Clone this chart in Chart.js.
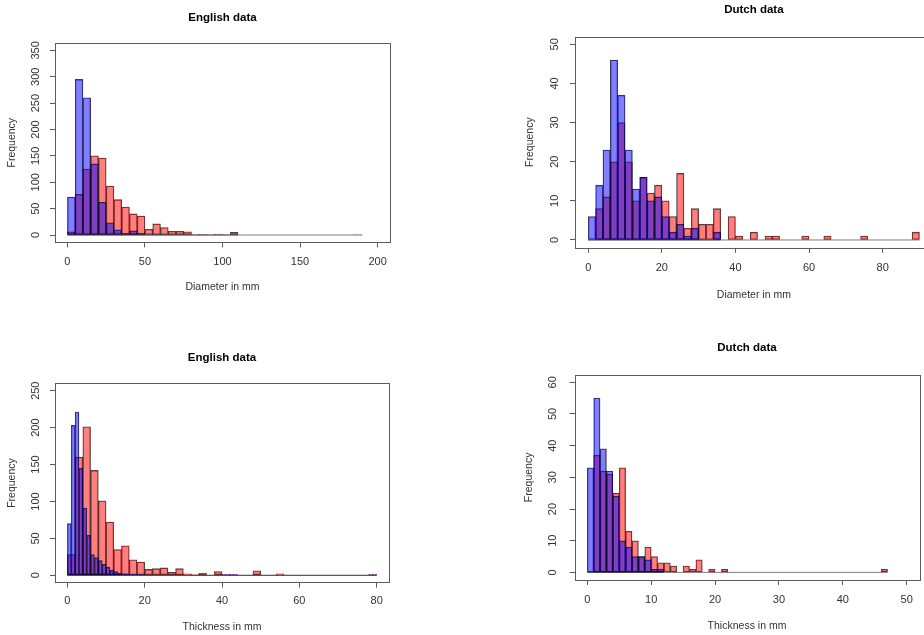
<!DOCTYPE html>
<html>
<head>
<meta charset="utf-8">
<title>English and Dutch data</title>
<script src="https://cdn.jsdelivr.net/npm/chart.js@4.4.1/dist/chart.umd.min.js"></script>
<style>
    html, body { margin: 0; padding: 0; background: #fff; overflow: hidden; }
    body { width: 924px; height: 635px; position: relative; }
    canvas { position: absolute; }
</style>
</head>
<body>
<canvas id="engDiam" width="462" height="318" style="left:0px;top:0px"></canvas>
<canvas id="dutDiam" width="500" height="318" style="left:462px;top:0px"></canvas>
<canvas id="engThick" width="462" height="317" style="left:0px;top:318px"></canvas>
<canvas id="dutThick" width="462" height="317" style="left:462px;top:318px"></canvas>
<script>
// English data, diameter in mm (bins of 5 mm)
const engDiamBinWidth = 5;
const engDiamBlue = [72, 295, 260, 135, 62, 23, 10, 3, 8, 3, 0, 1, 0, 0, 0, 0, 0, 1, 0, 0,
    0, 0, 0, 0, 0, 0, 0, 0, 0, 0, 0, 0, 0, 0, 0, 0, 0, 1];
const engDiamRed = [6, 77, 125, 150, 146, 93, 67, 53, 40, 36, 11, 21, 14, 7, 7, 6, 1, 1, 0, 2, 0, 5];
const engDiamTicksX = [0, 50, 100, 150, 200];
const engDiamTicksY = [0, 50, 100, 150, 200, 250, 300, 350];

// Dutch data, diameter in mm (bins of 2 mm)
const dutDiamBinWidth = 2;
const dutDiamBlue = [6, 14, 23, 46, 37, 23, 13, 16, 10, 11, 6, 2, 4, 1, 3, 0, 0, 2];
const dutDiamRed = [0, 8, 11, 20, 30, 20, 10, 16, 12, 14, 10, 6, 17, 3, 8, 4, 4, 8, 0, 6,
    1, 0, 2, 0, 1, 1, 0, 0, 0, 1, 0, 0, 1, 0, 0, 0, 0, 1, 0, 0, 0, 0, 0, 0, 2];
const dutDiamTicksX = [0, 20, 40, 60, 80];
const dutDiamTicksY = [0, 10, 20, 30, 40, 50];

// English data, thickness in mm (blue bins of 1 mm, red bins of 2 mm)
const engThickBlueWidth = 1;
const engThickRedWidth = 2;
const engThickBlue = [70, 203, 221, 145, 91, 54, 28, 24, 20, 15, 11, 7, 5, 3, 2, 2, 1, 1, 1, 1,
    0, 0, 0, 0, 0, 0, 0, 0, 0, 0, 0, 0, 0, 0, 0, 0, 0, 0, 0, 0,
    1, 1, 1, 1, 0, 0, 0, 0, 0, 0, 0, 0, 0, 0, 0, 0, 0, 0, 0, 0,
    0, 0, 0, 0, 0, 0, 0, 0, 0, 0, 0, 0, 0, 0, 0, 0, 0, 0, 1, 1];
const engThickRed = [28, 160, 201, 142, 101, 72, 35, 40, 21, 18, 8, 9, 10, 4, 9, 2, 1, 3, 0, 5,
    1, 1, 0, 0, 6, 0, 0, 2, 0, 0, 0, 0, 0, 0, 0, 0, 0, 0, 0, 1];
const engThickTicksX = [0, 20, 40, 60, 80];
const engThickTicksY = [0, 50, 100, 150, 200, 250];

// Dutch data, thickness in mm (bins of 1 mm)
const dutThickBinWidth = 1;
const dutThickBlue = [33, 55, 39, 32, 24, 10, 8, 5, 5, 4, 1, 1];
const dutThickRed = [0, 37, 32, 31, 25, 33, 13, 10, 5, 8, 5, 3, 3, 2, 0, 2, 1, 4, 0, 1,
    0, 1, 0, 0, 0, 0, 0, 0, 0, 0, 0, 0, 0, 0, 0, 0, 0, 0, 0, 0, 0, 0, 0, 0, 0, 0, 1];
const dutThickTicksX = [0, 10, 20, 30, 40, 50];
const dutThickTicksY = [0, 10, 20, 30, 40, 50, 60];

const axisGrey = '#5c5c5c';
const textGrey = '#333';

Chart.defaults.font.family = '"Liberation Sans", Arial, sans-serif';

// box round the plot region, like box() in R
const boxFrame = {
    id: 'boxFrame',
    afterDraw(chart) {
        const { ctx, chartArea } = chart;
        ctx.save();
        ctx.strokeStyle = axisGrey;
        ctx.lineWidth = 1;
        ctx.strokeRect(Math.round(chartArea.left) + 0.5, Math.round(chartArea.top) + 0.5,
            Math.round(chartArea.right - chartArea.left), Math.round(chartArea.bottom - chartArea.top));
        ctx.restore();
    }
};

function binPoints(counts, width) {
    return counts.map((c, i) => ({ x: width * (i + 0.5), y: c }));
}

function baseline(counts, width) {
    return [{ x: 0, y: 0 }, { x: counts.length * width, y: 0 }];
}

function histBars(label, counts, width, color, axis, order) {
    return {
        type: 'bar',
        label: label,
        data: binPoints(counts, width),
        xAxisID: axis,
        backgroundColor: color,
        borderColor: 'rgba(0,0,0,0.72)',
        borderWidth: 0.65,
        borderSkipped: false,
        grouped: false,
        barPercentage: 1,
        categoryPercentage: 1,
        order: order
    };
}

function baseLine(counts, width, axis) {
    return {
        type: 'line',
        data: baseline(counts, width),
        xAxisID: axis,
        borderColor: 'rgba(0,0,0,0.5)',
        borderWidth: 1,
        pointRadius: 0,
        order: 3
    };
}

function drawHist(p) {
    const tickList = list => (scale) => { scale.ticks = list.map(v => ({ value: v })); };
    const gridOpts = { display: true, offset: false, drawOnChartArea: false, drawTicks: true, tickLength: 5, color: axisGrey };

    new Chart(document.getElementById(p.id), {
        data: {
            datasets: [
                histBars('blue', p.blue, p.blueWidth, 'rgba(0,0,255,0.5)', 'x', 0),
                histBars('red', p.red, p.redWidth, 'rgba(255,0,0,0.5)', 'x2', 1),
                baseLine(p.blue, p.blueWidth, 'x'),
                baseLine(p.red, p.redWidth, 'x2')
            ]
        },
        options: {
            responsive: false,
            animation: false,
            layout: { padding: { left: 0, top: 0, bottom: 0, right: p.w - p.chartR } },
            plugins: {
                legend: { display: false },
                tooltip: { enabled: false },
                title: {
                    display: true,
                    text: p.title,
                    fullSize: false,
                    color: '#000',
                    font: { size: 11.5, weight: 'bold' },
                    padding: { top: p.titleTop, bottom: p.titleBottom }
                }
            },
            scales: {
                x: {
                    type: 'linear',
                    offset: false,
                    min: p.xMin,
                    max: p.xMax,
                    afterBuildTicks: tickList(p.ticksX),
                    afterFit: (scale) => { scale.height = p.h - p.chartB; },
                    grid: gridOpts,
                    border: { display: false },
                    ticks: { padding: p.xTickPad, color: textGrey, font: { size: 11 }, maxRotation: 0, autoSkip: false },
                    title: {
                        display: true,
                        text: p.xLabel,
                        color: textGrey,
                        font: { size: 10.5 },
                        padding: { top: 0, bottom: p.xTitleBottom }
                    }
                },
                x2: {
                    type: 'linear',
                    display: false,
                    offset: false,
                    min: p.xMin,
                    max: p.xMax,
                    afterBuildTicks: tickList(p.ticksX)
                },
                y: {
                    type: 'linear',
                    min: p.yMin,
                    max: p.yMax,
                    afterBuildTicks: tickList(p.ticksY),
                    afterFit: (scale) => { scale.width = p.chartL; },
                    grid: gridOpts,
                    border: { display: false },
                    ticks: {
                        padding: p.yTickPad,
                        color: textGrey,
                        font: { size: 11 },
                        minRotation: 90,
                        maxRotation: 90,
                        crossAlign: 'center',
                        autoSkip: false
                    },
                    title: {
                        display: true,
                        text: 'Frequency',
                        color: textGrey,
                        font: { size: 10.5 },
                        padding: { top: p.yTitleTop, bottom: 0 }
                    }
                }
            }
        },
        plugins: [boxFrame]
    });
}

drawHist({
    id: 'engDiam', title: 'English data', xLabel: 'Diameter in mm',
    blue: engDiamBlue, red: engDiamRed, blueWidth: engDiamBinWidth, redWidth: engDiamBinWidth,
    ticksX: engDiamTicksX, ticksY: engDiamTicksY,
    xMin: -8, xMax: 208, yMin: -14, yMax: 364,
    w: 462, h: 318, chartL: 55, chartR: 390, chartB: 242.4,
    titleTop: 11.4, titleBottom: 17.8, xTickPad: 7.7, xTitleBottom: 24.7, yTickPad: 5, yTitleTop: 5.4
});

drawHist({
    id: 'dutDiam', title: 'Dutch data', xLabel: 'Diameter in mm',
    blue: dutDiamBlue, red: dutDiamRed, blueWidth: dutDiamBinWidth, redWidth: dutDiamBinWidth,
    ticksX: dutDiamTicksX, ticksY: dutDiamTicksY,
    xMin: -3.6, xMax: 93.6, yMin: -2, yMax: 52,
    w: 500, h: 318, chartL: 113, chartR: 470.7, chartB: 247.8,
    titleTop: 3.1, titleBottom: 19.6, xTickPad: 8.9, xTitleBottom: 16.7, yTickPad: 9, yTitleTop: 61.7
});

drawHist({
    id: 'engThick', title: 'English data', xLabel: 'Thickness in mm',
    blue: engThickBlue, red: engThickRed, blueWidth: engThickBlueWidth, redWidth: engThickRedWidth,
    ticksX: engThickTicksX, ticksY: engThickTicksY,
    xMin: -3.2, xMax: 83.2, yMin: -10, yMax: 260,
    w: 462, h: 317, chartL: 55, chartR: 389, chartB: 264.7,
    titleTop: 33.4, titleBottom: 18.1, xTickPad: 6.7, xTitleBottom: 2, yTickPad: 4.5, yTitleTop: 5.4
});

drawHist({
    id: 'dutThick', title: 'Dutch data', xLabel: 'Thickness in mm',
    blue: dutThickBlue, red: dutThickRed, blueWidth: dutThickBinWidth, redWidth: dutThickBinWidth,
    ticksX: dutThickTicksX, ticksY: dutThickTicksY,
    xMin: -2, xMax: 52, yMin: -2.4, yMax: 62.4,
    w: 462, h: 317, chartL: 112.5, chartR: 457.5, chartB: 262,
    titleTop: 23.4, titleBottom: 19.5, xTickPad: 8.4, xTitleBottom: 3, yTickPad: 10, yTitleTop: 60.7
});
</script>
</body>
</html>
